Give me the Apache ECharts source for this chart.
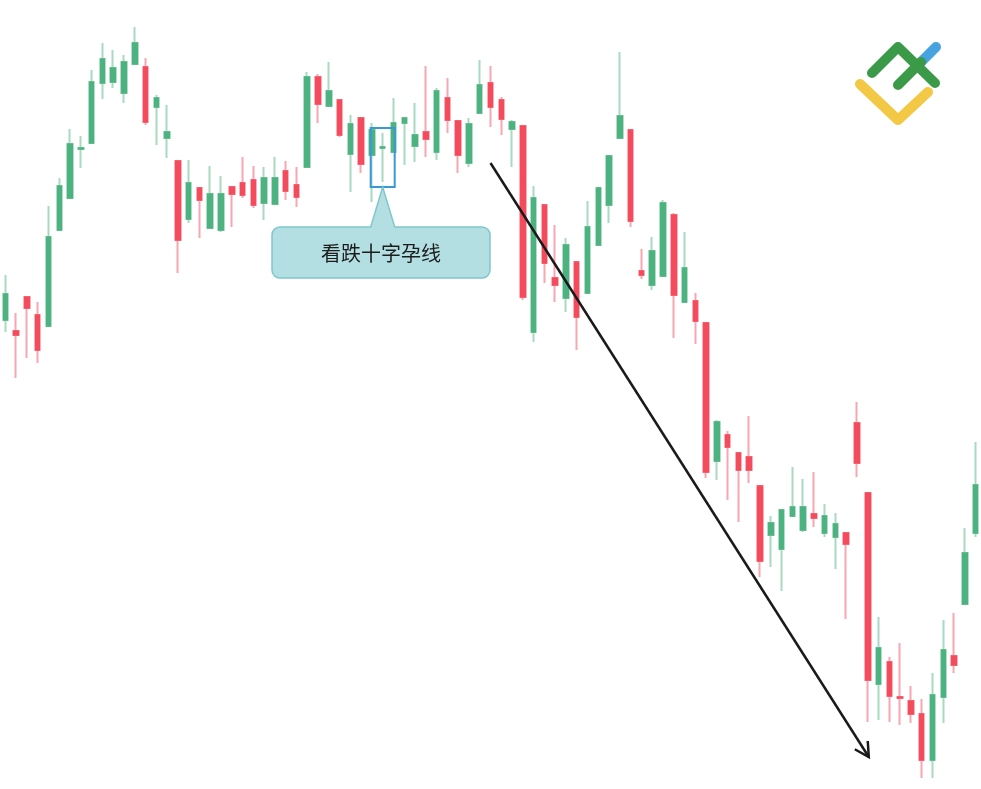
<!DOCTYPE html>
<html>
<head>
<meta charset="utf-8">
<script src="https://cdn.jsdelivr.net/npm/echarts@6/dist/echarts.min.js"></script>
<style>
html,body{margin:0;padding:0;background:#fff;}
#main{width:981px;height:789px;}
</style>
</head>
<body>
<div id="main"></div>
<script>
// Candle values (price units), one entry per bar
const opens  = [480,469,503,485,474,570,602,651,657,717,718,707,736,733,693,662,639,581,612,572,570,613,617,620,597,596,629,615,633,723,694,700,646,682,645,652,648,677,654,668,648,702,679,637,687,717,700,671,674,468,595,522,502,538,507,555,595,662,670,529,515,524,585,498,499,477,339,365,347,343,314,265,251,284,270,286,267,263,267,377,307,116,138,103,99,86,40,103,144,196,267];
const closes = [506,465,492,450,563,614,656,652,718,741,732,738,757,678,702,668,560,617,600,606,606,606,605,595,622,622,609,603,723,696,709,665,676,636,670,653,677,682,665,661,709,680,645,676,715,693,681,678,503,602,537,515,555,483,573,612,644,684,579,525,549,597,505,532,479,328,378,353,330,330,239,277,290,293,293,282,284,276,256,337,120,152,104,102,86,40,105,150,135,247,315];
const lows   = [468,422,442,437,473,570,602,632,657,701,712,697,736,675,655,642,527,577,562,572,568,573,602,592,580,596,600,593,633,677,694,663,608,627,598,618,648,635,638,643,640,667,627,633,687,673,665,633,500,458,517,498,488,450,507,554,577,662,573,521,510,524,462,498,456,322,320,300,278,317,223,233,209,284,268,273,263,231,181,323,78,80,78,75,77,22,22,77,127,195,263];
const highs  = [525,487,504,498,594,622,671,664,730,757,750,745,773,742,705,695,639,640,612,634,624,613,643,634,633,643,639,633,728,726,738,700,685,682,677,667,702,683,697,734,712,722,679,682,740,734,703,680,674,614,595,575,562,538,599,612,644,748,670,551,563,600,587,568,507,477,380,369,347,384,314,284,290,333,321,328,296,287,267,398,307,183,143,157,114,101,127,180,187,272,358];
const categories = opens.map((_, i) => 'D' + (i + 1));
const annotationText = '看跌十字孕线';

const UP = '#4cb380', DOWN = '#f44b5d';
const UP_WICK = '#a8dac0', DOWN_WICK = '#f8a6b0';

const wickData = opens.map((o, i) => [o, closes[i], lows[i], highs[i]]);
const bodyData = opens.map((o, i) => [o, closes[i], Math.min(o, closes[i]), Math.max(o, closes[i])]);

const chart = echarts.init(document.getElementById('main'), null, {renderer: 'canvas'});
chart.setOption({
  animation: false,
  backgroundColor: '#ffffff',
  grid: {left: 0, right: 0, top: 0, bottom: 0},
  xAxis: {type: 'category', data: categories, boundaryGap: true, show: false},
  yAxis: {type: 'value', min: 11, max: 800, show: false, splitLine: {show: false}},
  series: [
    {
      type: 'candlestick', data: wickData, barWidth: 5, z: 2,
      itemStyle: {color: UP_WICK, color0: DOWN_WICK, borderColor: UP_WICK, borderColor0: DOWN_WICK, borderWidth: 2}
    },
    {
      type: 'candlestick', data: bodyData, barWidth: 5, z: 3,
      itemStyle: {color: UP, color0: DOWN, borderColor: UP, borderColor0: DOWN, borderWidth: 1.5}
    }
  ]
});

// Annotations anchored to data positions
const boxTL = chart.convertToPixel({gridIndex: 0}, [35, 672]);
const boxBR = chart.convertToPixel({gridIndex: 0}, [35, 613]);
const bx = boxTL[0] - 12, by = boxTL[1], bw = 24, bh = boxBR[1] - boxTL[1];
const tipX = bx + bw / 2, tipY = by + bh;
const arrS = chart.convertToPixel({gridIndex: 0}, [45, 637]);
const arrE = chart.convertToPixel({gridIndex: 0}, [80, 43]);
const ex = arrE[0] + 1, ey = arrE[1];
const ang = Math.atan2(ey - arrS[1], ex - arrS[0]);
const hl = 16, ha = 0.5;
const h1 = [ex - hl * Math.cos(ang - ha), ey - hl * Math.sin(ang - ha)];
const h2 = [ex - hl * Math.cos(ang + ha), ey - hl * Math.sin(ang + ha)];

const bubX = 272, bubY = 227, bubW = 218, bubH = 51;
const FILL = '#b3dfe2', EDGE = '#7dc7cc';

chart.setOption({
  graphic: [
    {type: 'rect', shape: {x: bx, y: by, width: bw, height: bh}, style: {fill: 'none', stroke: '#3a98d5', lineWidth: 2}, z: 10},
    {type: 'rect', shape: {x: bubX, y: bubY, width: bubW, height: bubH, r: 8}, style: {fill: FILL, stroke: EDGE, lineWidth: 1.5}, z: 10},
    {type: 'polygon', shape: {points: [[tipX - 12, bubY + 2], [tipX, tipY], [tipX + 12, bubY + 2]]}, style: {fill: FILL, stroke: null}, z: 11},
    {type: 'polyline', shape: {points: [[tipX - 12, bubY], [tipX, tipY], [tipX + 12, bubY]]}, style: {fill: null, stroke: EDGE, lineWidth: 1.5}, z: 11},
    {type: 'text', x: bubX + bubW / 2, y: bubY + bubH / 2 + 1, style: {text: annotationText, fill: '#1c1c1c', font: '20px "Noto Sans CJK SC", sans-serif', textAlign: 'center', textVerticalAlign: 'middle'}, z: 12},
    {type: 'line', shape: {x1: arrS[0], y1: arrS[1], x2: ex, y2: ey}, style: {stroke: '#1a1a1a', lineWidth: 2.5}, z: 12},
    {type: 'polyline', shape: {points: [h1, [ex, ey], h2]}, style: {fill: null, stroke: '#1a1a1a', lineWidth: 2.5, lineJoin: 'miter'}, z: 12},
    // logo
    {type: 'polyline', shape: {points: [[860, 84], [898, 120], [928, 92]]}, style: {fill: null, stroke: '#f3c845', lineWidth: 10, lineCap: 'round', lineJoin: 'round'}, z: 12},
    {type: 'polyline', shape: {points: [[921, 62], [936, 47]]}, style: {fill: null, stroke: '#47a2e0', lineWidth: 10, lineCap: 'round'}, z: 12},
    {type: 'polyline', shape: {points: [[872, 73], [898, 47], [935, 83]]}, style: {fill: null, stroke: '#3a9a47', lineWidth: 10, lineCap: 'round', lineJoin: 'round'}, z: 13},
    {type: 'polyline', shape: {points: [[898, 85], [921, 62]]}, style: {fill: null, stroke: '#3a9a47', lineWidth: 10, lineCap: 'round'}, z: 13}
  ]
});
</script>
</body>
</html>
